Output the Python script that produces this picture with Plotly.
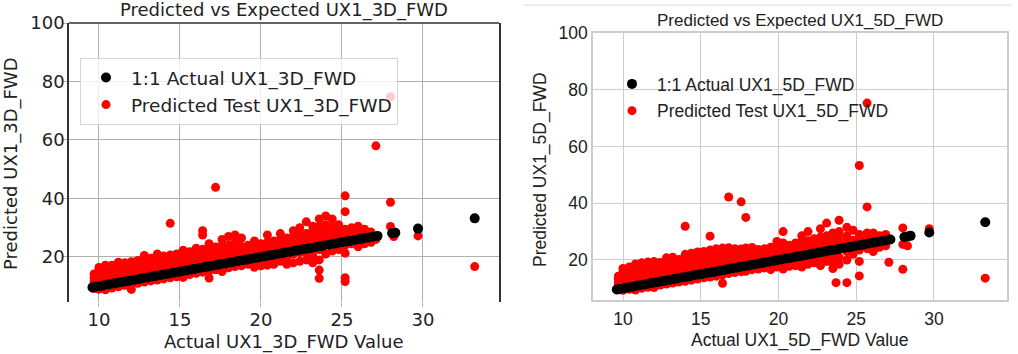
import plotly.graph_objects as go

# ---------------- data ----------------
# Left panel (UX1_3D_FWD)
actual_L = [9.6, 9.8, 10.1, 10.3, 10.6, 10.9, 11.1, 11.4, 11.7, 11.9, 12.2, 12.5, 12.7, 13.0,
            13.3, 13.5, 13.8, 14.1, 14.3, 14.6, 14.9, 15.1, 15.4, 15.7, 15.9, 16.2, 16.5, 16.7,
            17.0, 17.3, 17.5, 17.8, 18.1, 18.3, 18.6, 18.9, 19.1, 19.4, 19.7, 19.9, 20.2, 20.5,
            20.7, 21.0, 21.3, 21.5, 21.8, 22.1, 22.3, 22.6, 22.9, 23.1, 23.4, 23.7, 23.9, 24.2,
            24.5, 24.7, 25.0, 25.3, 25.5, 25.8, 26.1, 26.3, 26.6, 26.9, 27.2, 28.1, 28.3, 29.7, 33.2]

pred_cols_x_L = [9.7, 10.0, 10.4, 10.8, 11.2, 11.6, 12.0, 12.4, 12.8, 13.2, 13.6, 14.0, 14.4, 14.8,
                 15.2, 15.6, 16.0, 16.4, 16.8, 17.2, 17.6, 18.0, 18.4, 18.8, 19.2, 19.6, 20.0, 20.4,
                 20.8, 21.2, 21.6, 22.0, 22.4, 22.8, 23.2, 23.6, 24.0, 24.4, 24.8, 25.2, 25.6, 26.0,
                 26.4, 26.8, 27.1, 28.0, 28.2, 29.7, 33.2]
pred_cols_y_L = [
    [9.2, 10.5, 11.8, 13.0, 14.2],
    [9.0, 10.4, 11.7, 13.0, 14.3, 15.6, 16.4],
    [8.8, 10.2, 11.5, 12.8, 14.0, 15.3, 16.6, 17.2],
    [9.4, 10.7, 12.0, 13.3, 14.6, 15.9, 17.2],
    [9.8, 11.1, 12.4, 13.7, 15.0, 16.3, 17.6, 18.2],
    [10.3, 11.6, 12.9, 14.2, 15.5, 16.8, 18.0],
    [8.9, 10.7, 12.0, 13.3, 14.6, 15.9, 17.2, 18.4],
    [11.0, 12.3, 13.6, 14.9, 16.2, 17.5, 18.8],
    [11.4, 12.7, 14.0, 15.3, 16.6, 17.9, 19.2, 20.5],
    [11.8, 13.1, 14.4, 15.7, 17.0, 18.3, 19.6],
    [12.1, 13.4, 14.7, 16.0, 17.3, 18.6, 19.9, 21.0],
    [12.5, 13.8, 15.1, 16.4, 17.7, 19.0, 20.3],
    [12.9, 14.2, 15.5, 16.8, 18.1, 19.4, 20.7, 31.5],
    [13.2, 14.5, 15.8, 17.1, 18.4, 19.7, 21.0],
    [13.0, 14.9, 16.2, 17.5, 18.8, 20.1, 21.4, 22.3],
    [14.0, 15.3, 16.6, 17.9, 19.2, 20.5, 21.8],
    [14.4, 15.7, 17.0, 18.3, 19.6, 20.9, 22.2, 23.0],
    [14.8, 16.1, 17.4, 18.7, 20.0, 21.3, 22.6, 29.0, 27.5],
    [12.8, 15.2, 16.5, 17.8, 19.1, 20.4, 21.7, 23.0, 24.5],
    [15.6, 16.9, 18.2, 19.5, 20.8, 22.1, 23.4, 43.8],
    [15.0, 16.4, 17.7, 19.0, 20.3, 21.6, 22.9, 24.0, 26.0],
    [16.3, 17.6, 18.9, 20.2, 21.5, 22.8, 24.0, 27.0],
    [16.7, 18.0, 19.3, 20.6, 21.9, 23.2, 25.0, 27.5],
    [17.0, 18.4, 19.7, 21.0, 22.3, 23.6, 26.5],
    [17.5, 18.8, 20.1, 21.4, 22.7, 24.0],
    [16.5, 18.0, 19.4, 20.8, 22.0, 23.5, 25.5],
    [17.0, 18.6, 20.0, 21.5, 23.0, 24.5],
    [17.2, 19.0, 20.4, 22.0, 23.5, 25.0, 27.5],
    [17.5, 19.5, 21.0, 22.5, 24.0, 25.5],
    [18.5, 20.0, 21.5, 23.0, 24.5, 26.0, 28.0],
    [17.5, 19.0, 20.5, 22.0, 23.5, 25.0, 26.5],
    [18.0, 21.0, 22.5, 24.0, 25.5, 27.0, 29.0],
    [18.5, 21.5, 23.0, 24.5, 26.0, 27.5, 30.0],
    [19.0, 21.5, 23.5, 25.0, 26.5, 28.0, 32.0],
    [18.0, 20.5, 24.0, 25.5, 27.0, 29.0, 30.5],
    [12.7, 15.5, 19.0, 22.5, 24.5, 26.0, 28.0, 30.5, 33.0],
    [21.0, 24.5, 26.0, 27.5, 29.0, 31.0, 34.0],
    [22.0, 25.0, 26.5, 28.0, 30.5, 33.0],
    [22.5, 25.5, 27.0, 28.5, 31.0],
    [11.6, 12.9, 21.3, 24.0, 26.0, 27.5, 29.5, 35.5, 40.9],
    [24.5, 26.0, 28.0, 30.0],
    [23.5, 25.5, 27.0, 29.0, 30.5],
    [24.5, 26.0, 28.0, 29.5],
    [25.0, 26.5, 28.5],
    [26.0, 58.0],
    [30.4, 38.7, 74.8],
    [27.0],
    [27.2],
    [16.7],
]

# Right panel (UX1_5D_FWD)
actual_R = [9.6, 9.8, 10.1, 10.3, 10.6, 10.9, 11.1, 11.4, 11.7, 11.9, 12.2, 12.5, 12.7, 13.0,
            13.3, 13.5, 13.8, 14.1, 14.3, 14.6, 14.9, 15.1, 15.4, 15.7, 15.9, 16.2, 16.5, 16.7,
            17.0, 17.3, 17.5, 17.8, 18.1, 18.3, 18.6, 18.9, 19.1, 19.4, 19.7, 19.9, 20.2, 20.5,
            20.7, 21.0, 21.3, 21.5, 21.8, 22.1, 22.3, 22.6, 22.9, 23.1, 23.4, 23.7, 23.9, 24.2,
            24.5, 24.7, 25.0, 25.3, 25.5, 25.8, 26.1, 26.3, 26.6, 26.9, 27.2, 28.1, 28.3, 28.5,
            29.7, 33.3]

pred_cols_x_R = [9.7, 10.0, 10.4, 10.8, 11.2, 11.6, 12.0, 12.4, 12.8, 13.2, 13.6, 14.0, 14.4, 14.8,
                 15.2, 15.6, 16.0, 16.4, 16.8, 17.2, 17.6, 17.9, 18.3, 18.7, 19.1, 19.5, 19.9, 20.3,
                 20.7, 21.1, 21.5, 21.9, 22.3, 22.7, 23.1, 23.5, 23.7, 23.9, 24.4, 24.8, 25.2, 25.7,
                 26.1, 26.5, 26.9, 27.1, 28.0, 28.3, 29.7, 33.3]
pred_cols_y_R = [
    [9.5, 10.8, 12.1, 13.4, 14.3],
    [9.3, 10.6, 11.9, 13.2, 14.5, 15.8, 17.0],
    [9.7, 11.0, 12.3, 13.6, 14.9, 16.2, 17.5],
    [9.4, 11.4, 12.7, 14.0, 15.3, 16.6, 17.9, 18.6],
    [10.0, 11.5, 12.8, 14.1, 15.4, 16.7, 18.0, 19.0],
    [10.4, 11.9, 13.2, 14.5, 15.8, 17.1, 18.4, 19.3],
    [10.3, 12.2, 13.5, 14.8, 16.1, 17.4, 18.7, 19.5],
    [11.2, 12.6, 13.9, 15.2, 16.5, 17.8, 19.1],
    [11.5, 13.0, 14.3, 15.6, 16.9, 18.2, 19.5, 20.8],
    [11.9, 13.3, 14.6, 15.9, 17.2, 18.5, 19.8, 21.0],
    [12.2, 13.7, 15.0, 16.3, 17.6, 18.9, 20.2],
    [12.5, 14.1, 15.4, 16.7, 18.0, 19.3, 20.6, 22.0, 31.9],
    [12.9, 14.4, 15.7, 17.0, 18.3, 19.6, 20.9, 22.4],
    [13.3, 14.8, 16.1, 17.4, 18.7, 20.0, 21.3, 22.8],
    [13.7, 15.2, 16.5, 17.8, 19.1, 20.4, 21.7, 23.0],
    [14.0, 15.6, 16.9, 18.2, 19.5, 20.8, 22.1, 23.5, 28.4],
    [14.3, 15.9, 17.2, 18.5, 19.8, 21.1, 22.4, 24.0],
    [11.8, 14.8, 16.3, 17.6, 18.9, 20.2, 21.5, 22.8, 24.2],
    [15.2, 16.6, 17.9, 19.2, 20.5, 21.8, 23.1, 24.3, 42.2],
    [15.6, 17.0, 18.3, 19.6, 20.9, 22.2, 23.5, 24.0],
    [15.9, 17.4, 18.7, 20.0, 21.3, 22.6, 23.9, 40.5],
    [16.0, 17.7, 19.0, 20.3, 21.6, 22.9, 24.2, 35.0],
    [16.6, 18.1, 19.4, 20.7, 22.0, 23.3, 24.4],
    [16.8, 18.5, 19.8, 21.1, 22.4, 23.7],
    [17.2, 18.9, 20.2, 21.5, 22.8, 24.0],
    [16.6, 18.0, 19.3, 20.6, 21.9, 23.2, 24.5],
    [17.5, 19.0, 20.4, 21.8, 23.2, 24.6, 26.5],
    [16.8, 18.5, 20.0, 21.5, 23.0, 24.5, 26.0, 30.0],
    [17.8, 19.5, 21.0, 22.5, 24.0, 25.2],
    [18.0, 20.0, 21.5, 23.0, 24.5, 26.0],
    [17.5, 19.5, 21.8, 23.3, 24.8, 26.5, 28.5],
    [18.5, 20.5, 22.2, 23.7, 25.2, 26.8, 30.0],
    [19.0, 21.0, 22.6, 24.1, 25.6, 27.5],
    [18.0, 20.5, 23.0, 24.5, 26.0, 28.0, 31.0],
    [19.5, 22.0, 23.4, 25.0, 26.5, 28.5, 33.0],
    [17.0, 19.0, 21.5, 23.8, 25.5, 27.0, 29.5],
    [12.0],
    [18.5, 21.0, 24.2, 26.0, 28.0, 30.0, 34.0],
    [12.0, 20.0, 23.0, 24.8, 26.5, 28.5, 31.5],
    [22.0, 25.2, 27.0, 30.5],
    [14.4, 19.5, 23.5, 25.6, 27.5, 29.0, 53.3],
    [24.0, 26.0, 27.8, 29.5, 38.7, 75.3],
    [23.0, 26.0, 27.5, 29.5],
    [24.5, 26.8, 28.5],
    [25.0, 27.5, 29.0],
    [19.2],
    [31.3, 25.5, 16.7],
    [25.0],
    [31.0],
    [13.6],
]

x_ticks = [10, 15, 20, 25, 30]
y_ticks = [20, 40, 60, 80, 100]


def flatten(cols_x, cols_y):
    xs, ys = [], []
    for cx, cy in zip(cols_x, cols_y):
        for v in cy:
            xs.append(cx)
            ys.append(v)
    return xs, ys


pred_x_L, pred_y_L = flatten(pred_cols_x_L, pred_cols_y_L)
pred_x_R, pred_y_R = flatten(pred_cols_x_R, pred_cols_y_R)

W, H = 1018, 354
L_FONT = "DejaVu Sans"
R_FONT = "Liberation Sans, Arial"
TXT = "#222222"

fig = go.Figure()

# Left panel
fig.add_trace(go.Scatter(x=pred_x_L, y=pred_y_L, mode="markers", name="Predicted Test UX1_3D_FWD",
                         marker=dict(color="#ff0000", size=9, line=dict(width=0)),
                         xaxis="x", yaxis="y", legend="legend", legendrank=2,
                         legendgroup="lr"))
fig.add_trace(go.Scatter(x=actual_L, y=actual_L, mode="markers", name="1:1 Actual UX1_3D_FWD",
                         marker=dict(color="#000000", size=10, line=dict(width=0)),
                         xaxis="x", yaxis="y", legend="legend", legendrank=1,
                         legendgroup="lb"))
# Right panel
fig.add_trace(go.Scatter(x=pred_x_R, y=pred_y_R, mode="markers", name="Predicted Test UX1_5D_FWD",
                         marker=dict(color="#ff0000", size=9, line=dict(width=0)),
                         xaxis="x2", yaxis="y2", legend="legend2", legendrank=2,
                         legendgroup="rr"))
fig.add_trace(go.Scatter(x=actual_R, y=actual_R, mode="markers", name="1:1 Actual UX1_5D_FWD",
                         marker=dict(color="#000000", size=10, line=dict(width=0)),
                         xaxis="x2", yaxis="y2", legend="legend2", legendrank=1,
                         legendgroup="rb"))

# plot area pixel boxes
Lx0, Lx1, Ly0, Ly1 = 69, 499, 23, 302
Rx0, Rx1, Ry0, Ry1 = 593, 1007, 33, 300

fig.update_layout(
    template="none",
    width=W, height=H, autosize=False,
    margin=dict(l=0, r=0, t=0, b=0, pad=0, autoexpand=False),
    paper_bgcolor="white", plot_bgcolor="white",
    xaxis=dict(domain=[Lx0 / W, Lx1 / W], range=[8.15, 34.7], tickvals=x_ticks,
               showgrid=True, gridcolor="#b0b0b0", gridwidth=1, zeroline=False,
               showline=False, ticks="outside", ticklen=4, tickcolor="#b0b0b0",
               ticklabelstandoff=-3, automargin=False,
               tickfont=dict(family=L_FONT, size=18, color=TXT), anchor="y"),
    yaxis=dict(domain=[1 - Ly1 / H, 1 - Ly0 / H], range=[4.6, 100], tickvals=y_ticks,
               showgrid=True, gridcolor="#b0b0b0", gridwidth=1, zeroline=False,
               showline=True, mirror=True, linecolor="#333333", linewidth=1.5,
               ticks="outside", ticklen=4, tickcolor="#b0b0b0",
               ticklabelstandoff=-5, automargin=False,
               tickfont=dict(family=L_FONT, size=18, color=TXT), anchor="x"),
    xaxis2=dict(domain=[Rx0 / W, Rx1 / W], range=[8.07, 34.7], tickvals=x_ticks,
                showgrid=True, gridcolor="#cccccc", gridwidth=1.2, zeroline=False,
                showline=True, mirror=True, linecolor="#cccccc", linewidth=1.5,
                ticks="", automargin=False, ticklabelstandoff=2,
                tickfont=dict(family=R_FONT, size=17.5, color=TXT), anchor="y2"),
    yaxis2=dict(domain=[1 - Ry1 / H, 1 - Ry0 / H], range=[5.9, 100], tickvals=y_ticks,
                showgrid=True, gridcolor="#cccccc", gridwidth=1.2, zeroline=False,
                showline=True, mirror=True, linecolor="#cccccc", linewidth=1.5,
                ticks="", automargin=False,
                tickfont=dict(family=R_FONT, size=17.5, color=TXT), anchor="x2"),
    legend=dict(x=80 / W, y=1 - 58 / H, xanchor="left", yanchor="top",
                bgcolor="rgba(255,255,255,0.8)", bordercolor="#d5d5d5", borderwidth=1,
                font=dict(family=L_FONT, size=18.5, color=TXT), traceorder="grouped",
                tracegroupgap=0, itemwidth=40),
    legend2=dict(x=607 / W, y=1 - 66 / H, xanchor="left", yanchor="top",
                 bgcolor="rgba(0,0,0,0)", borderwidth=0,
                 font=dict(family=R_FONT, size=17.5, color=TXT), traceorder="grouped",
                 tracegroupgap=1, itemwidth=40),
    shapes=[
        # left panel top spine
        dict(type="line", xref="x domain", yref="y domain", x0=0, x1=1, y0=1, y1=1,
             line=dict(color="#333333", width=1.5)),
        # faint separator line at top of right image
        dict(type="line", xref="paper", yref="paper", x0=523 / W, x1=1012 / W,
             y0=1 - 5 / H, y1=1 - 5 / H, line=dict(color="#eeeeee", width=2)),
    ],
    annotations=[
        dict(text="Predicted vs Expected UX1_3D_FWD", x=(Lx0 + Lx1) / 2 / W, y=1 - 10 / H,
             xref="paper", yref="paper", showarrow=False, xanchor="center", yanchor="middle",
             font=dict(family=L_FONT, size=18, color=TXT)),
        dict(text="Actual UX1_3D_FWD Value", x=(Lx0 + Lx1) / 2 / W, y=1 - 342 / H,
             xref="paper", yref="paper", showarrow=False, xanchor="center", yanchor="middle",
             font=dict(family=L_FONT, size=18, color=TXT)),
        dict(text="Predicted UX1_3D_FWD", x=11 / W, y=1 - 164 / H, textangle=-90,
             xref="paper", yref="paper", showarrow=False, xanchor="center", yanchor="middle",
             font=dict(family=L_FONT, size=18, color=TXT)),
        dict(text="Predicted vs Expected UX1_5D_FWD", x=(Rx0 + Rx1) / 2 / W, y=1 - 20 / H,
             xref="paper", yref="paper", showarrow=False, xanchor="center", yanchor="middle",
             font=dict(family=R_FONT, size=17, color=TXT)),
        dict(text="Actual UX1_5D_FWD Value", x=(Rx0 + Rx1) / 2 / W, y=1 - 340 / H,
             xref="paper", yref="paper", showarrow=False, xanchor="center", yanchor="middle",
             font=dict(family=R_FONT, size=17.5, color=TXT)),
        dict(text="Predicted UX1_5D_FWD", x=540 / W, y=1 - 170 / H, textangle=-90,
             xref="paper", yref="paper", showarrow=False, xanchor="center", yanchor="middle",
             font=dict(family=R_FONT, size=17.5, color=TXT)),
    ],
)

fig.write_html("out.html")
